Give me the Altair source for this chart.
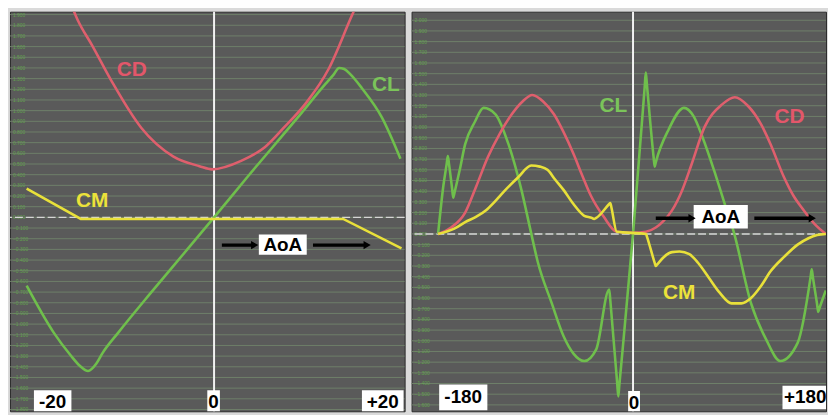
import altair as alt
import pandas as pd

# ---------------- left panel : AoA -20 .. +20 deg ----------------
L_CL_AOA = [-18.0, -15.4, -13.8, -12.9, -12.1, -11.3, -10.7, -9.2, -6.1, -3.0, 0.0,
            3.3, 7.9, 10.7, 11.5, 12.0, 12.5, 13.1, 14.2, 16.1, 17.9]
L_CL = [-0.64, -1.08, -1.29, -1.39, -1.44, -1.37, -1.27, -1.08, -0.71, -0.35, 0.0,
        0.39, 0.92, 1.25, 1.34, 1.40, 1.39, 1.34, 1.21, 0.94, 0.55]

L_CD_AOA = [-14.0, -13.1, -11.7, -9.8, -7.0, -3.9, -1.4, -0.2, 2.6, 4.9, 6.7, 8.9, 11.0, 13.1, 14.0]
L_CD = [2.06, 1.85, 1.61, 1.27, 0.84, 0.57, 0.48, 0.45, 0.53, 0.66, 0.84, 1.08, 1.39, 1.86, 2.06]

L_CM_AOA = [-18.0, -12.8, 12.4, 18.0]
L_CM = [0.27, -0.015, -0.015, -0.29]

L_GRID = [round(-1.8 + 0.1 * i, 1) for i in range(38)]

# ---------------- right panel : AoA -180 .. +180 deg ----------------
R_CL_AOA = [-180, -175, -172, -171, -170, -167, -166, -165, -160, -155, -146, -138, -127, -115,
            -103, -95, -88, -75, -64, -55, -45, -34, -22, -21, -20, -14.6, -13.6, -12.6, 0,
            10.8, 11.8, 12.8, 19, 20, 21, 33, 47, 56, 64, 75, 85, 93, 109, 123, 136, 152,
            164, 165, 166, 170, 171, 172, 178]
R_CL = [0.0, 0.46, 0.66, 0.73, 0.66, 0.42, 0.34, 0.38, 0.60, 0.84, 1.05, 1.18, 1.12, 0.84,
        0.41, 0.05, -0.26, -0.65, -0.96, -1.12, -1.19, -1.08, -0.52, -0.62, -0.74, -1.40,
        -1.52, -1.41, 0.0, 1.38, 1.51, 1.40, 0.72, 0.63, 0.67, 0.98, 1.18, 1.10, 0.91, 0.59,
        0.27, 0.02, -0.65, -0.99, -1.19, -1.02, -0.40, -0.33, -0.40, -0.66, -0.73, -0.70, -0.53]

R_CD_AOA = [-180, -168, -155, -145, -134, -123, -112, -102, -93, -83, -73, -64, -55, -47, -39,
            -27, -15, 0, 12, 21, 28, 36, 45, 54, 66, 82, 94, 106, 118, 127, 139, 148, 157, 168, 178]
R_CD = [0.0, 0.06, 0.20, 0.44, 0.72, 0.94, 1.12, 1.24, 1.30, 1.24, 1.12, 0.95, 0.75, 0.55, 0.36,
        0.16, 0.02, 0.01, 0.02, 0.06, 0.12, 0.22, 0.40, 0.65, 1.00, 1.21, 1.28, 1.20, 1.03, 0.84,
        0.54, 0.36, 0.23, 0.09, 0.0]

R_CM_AOA = [-180, -165, -155, -145, -136, -127, -118, -106, -94, -86, -79, -72, -64, -55, -45,
            -38, -36, -34, -22, -21, -20, -15, 12, 13, 20, 21, 22, 28, 36, 43, 52, 60, 70, 80,
            91, 100, 109, 118, 127, 140, 152, 162, 170, 178]
R_CM = [0.0, 0.05, 0.11, 0.16, 0.22, 0.31, 0.41, 0.53, 0.64, 0.63, 0.60, 0.51, 0.41, 0.28, 0.17,
        0.15, 0.14, 0.15, 0.28, 0.29, 0.25, 0.02, 0.0, -0.03, -0.27, -0.30, -0.29, -0.22, -0.17,
        -0.165, -0.19, -0.27, -0.41, -0.55, -0.65, -0.65, -0.60, -0.49, -0.35, -0.21, -0.10,
        -0.04, -0.01, 0.0]

R_GRID = [round(-1.6 + 0.1 * i, 1) for i in range(37)]

# ---------------- styles ----------------
BG = "#5a5a5a"
GRID = "#6e7f69"
GRID_LABEL = "#63b04c"
RED = "#df5f6d"
GREEN = "#6fbf4c"
YELLOW = "#e8e03a"
FONT = "Liberation Sans"


def panel(w, h, xdom, ydom, grid, curves, names, boxes, aoa, arrows):
    xs = alt.Scale(domain=xdom, nice=False, zero=False)
    ys = alt.Scale(domain=ydom, nice=False, zero=False)
    X = lambda f: alt.X(f, type="quantitative", scale=xs, axis=None)
    Y = lambda f: alt.Y(f, type="quantitative", scale=ys, axis=None)

    gdf = pd.DataFrame({"g": grid})
    layers = [
        alt.Chart(gdf).mark_rule(color=GRID, strokeWidth=1).encode(y=Y("g")),
        alt.Chart(gdf).mark_text(align="left", baseline="middle", fontSize=5, color=GRID_LABEL,
                                 opacity=0.8).encode(
            y=Y("g"), x=alt.value(3), text=alt.Text("g:Q", format=".3f")),
        alt.Chart(pd.DataFrame({"z": [0]})).mark_rule(
            color="#d6d6d6", strokeWidth=1.5, strokeDash=[8, 3]).encode(y=Y("z")),
        alt.Chart(pd.DataFrame({"z": [0]})).mark_rule(
            color="#f2f2f2", strokeWidth=2).encode(x=X("z")),
    ]
    for a, v, color, interp in curves:
        df = pd.DataFrame({"a": a, "v": v})
        layers.append(alt.Chart(df).mark_line(color=color, strokeWidth=2.6, interpolate=interp,
                                              clip=True).encode(x=X("a"), y=Y("v")))
    ndf = pd.DataFrame(names, columns=["x", "y", "t", "c"])
    layers.append(alt.Chart(ndf).mark_text(font=FONT, fontWeight="bold", fontSize=21,
                                           baseline="middle").encode(
        x=X("x"), y=Y("y"), text="t:N",
        color=alt.Color("c:N", scale=None)))
    bdf = pd.DataFrame(boxes + [aoa], columns=["x1", "x2", "y1", "y2", "tx", "ty", "t", "fs"])
    layers.append(alt.Chart(bdf).mark_rect(color="white", clip=True).encode(
        x=X("x1"), x2="x2", y=Y("y1"), y2="y2"))
    layers.append(alt.Chart(bdf).mark_text(font=FONT, fontWeight="bold", color="black",
                                           baseline="middle", clip=True).encode(
        x=X("tx"), y=Y("ty"), text="t:N", size=alt.Size("fs:Q", scale=None)))
    adf = pd.DataFrame(arrows, columns=["x1", "x2", "y"])
    layers.append(alt.Chart(adf).mark_rule(color="black", strokeWidth=3.5).encode(
        x=X("x1"), x2="x2", y=Y("y")))
    layers.append(alt.Chart(adf).mark_point(shape="triangle-right", filled=True, color="black",
                                            size=70, opacity=1).encode(x=X("x2"), y=Y("y")))
    return alt.layer(*layers).properties(
        width=w, height=h,
        view=alt.ViewBackground(fill=BG, stroke="#2a2a2a", strokeWidth=1))


left = panel(
    398, 403, [-19.6, 18.3], [-1.817, 1.927], L_GRID,
    [(L_CL_AOA, L_CL, GREEN, "monotone"),
     (L_CD_AOA, L_CD, RED, "monotone"),
     (L_CM_AOA, L_CM, YELLOW, "linear")],
    [(-7.9, 1.38, "CD", "#e3576a"), (-11.7, 0.15, "CM", "#ece23a"), (16.5, 1.24, "CL", "#7bc45a")],
    [(-17.3, -13.7, -1.62, -1.85, -15.5, -1.73, "-20", 19),
     (-0.65, 0.56, -1.62, -1.85, -0.05, -1.73, "0", 19),
     (14.2, 18.2, -1.62, -1.85, 16.2, -1.73, "+20", 19)],
    (4.3, 8.9, -0.16, -0.35, 6.6, -0.255, "AoA", 19),
    [(0.75, 3.9, -0.26), (9.5, 14.7, -0.26)],
)

right = panel(
    418, 403, [-204.5, 178.2], [-1.66, 2.08], R_GRID,
    [(R_CL_AOA, R_CL, GREEN, "monotone"),
     (R_CD_AOA, R_CD, RED, "monotone"),
     (R_CM_AOA, R_CM, YELLOW, "monotone")],
    [(-18.2, 1.20, "CL", "#7bc45a"), (144.5, 1.09, "CD", "#e3576a"), (42.7, -0.55, "CM", "#ece23a")],
    [(-179, -134.5, -1.41, -1.65, -156.8, -1.53, "-180", 19),
     (-4.5, 6.4, -1.47, -1.70, 0.9, -1.585, "0", 19),
     (138, 182, -1.42, -1.64, 159, -1.53, "+180", 19)],
    (56, 106, 0.27, 0.05, 81, 0.16, "AoA", 19),
    [(21, 54.5, 0.147), (112, 165.5, 0.147)],
)

chart = alt.hconcat(left, right, spacing=3).properties(
    padding=0, background="#dadada"
).configure(font=FONT)

chart.save("out.html", embed_options={"renderer": "svg", "actions": False})
